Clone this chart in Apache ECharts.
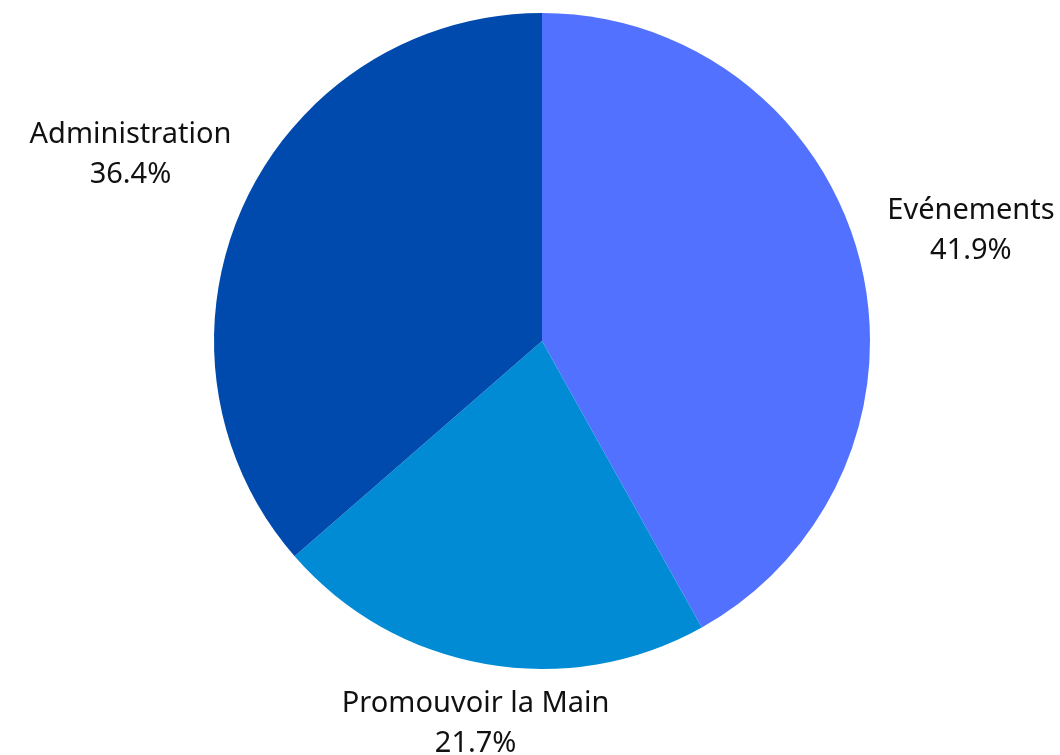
<!DOCTYPE html>
<html>
<head>
<meta charset="utf-8">
<script src="https://cdn.jsdelivr.net/npm/echarts@6/dist/echarts.min.js"></script>
<style>
html,body{margin:0;padding:0;background:#fff;}
#chart{width:1060px;height:755px;}
</style>
</head>
<body>
<div id="chart"></div>
<script>
const categories = ['Evénements', 'Promouvoir la Main', 'Administration'];
const values = [41.9, 21.7, 36.4];
const colors = ['#5271FF', '#008BD4', '#004AAD'];
const labelLengths = [110, 58, 122];
const labelShiftX = [0, 5, 3];
const labelShiftY = [0, 10, 0];

const chart = echarts.init(document.getElementById('chart'));
const data = categories.map((name, i) => ({
  name: name,
  value: values[i],
  itemStyle: { color: colors[i] },
  labelLine: { show: false, length: labelLengths[i], length2: 0 }
}));

chart.setOption({
  animation: false,
  series: [{
    type: 'pie',
    center: [542, 341],
    radius: [0, 328],
    startAngle: 90,
    clockwise: true,
    data: data,
    label: {
      show: true,
      position: 'outside',
      formatter: p => p.name + '\n' + p.value.toFixed(1) + '%',
      color: '#111',
      fontFamily: 'Noto Sans',
      fontSize: 29,
      lineHeight: 40,
      width: 340,
      overflow: 'none'
    },
    labelLine: { show: false },
    labelLayout: function (params) {
      return {
        align: 'center',
        verticalAlign: 'middle',
        dx: labelShiftX[params.dataIndex],
        dy: labelShiftY[params.dataIndex]
      };
    },
    emphasis: { disabled: true }
  }]
});
</script>
</body>
</html>
